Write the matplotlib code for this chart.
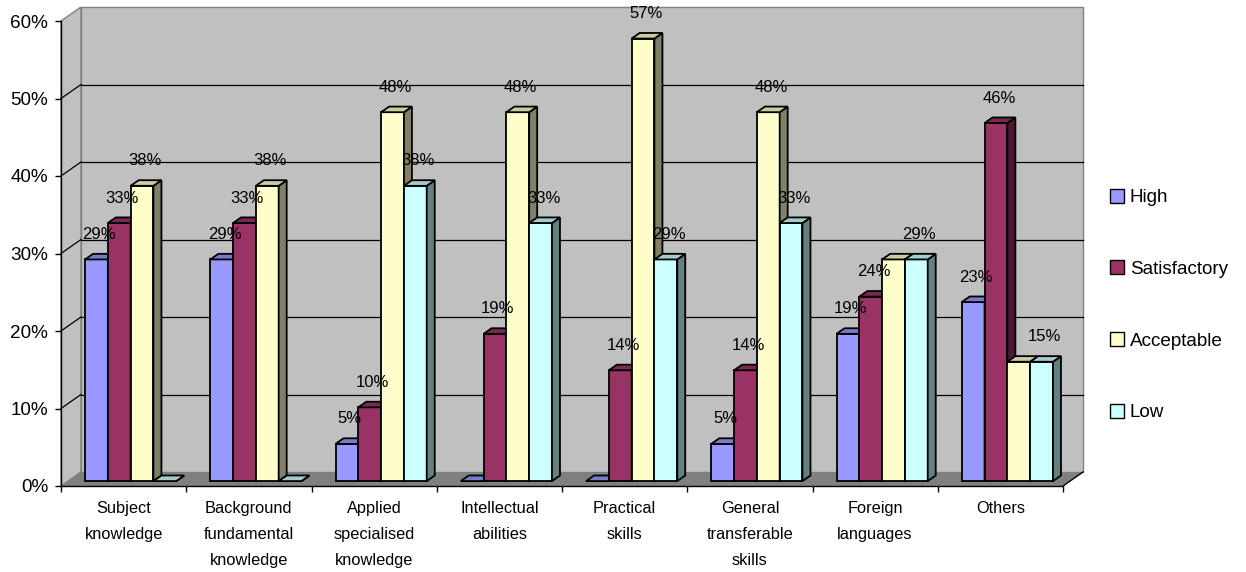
import matplotlib.pyplot as plt
import numpy as np
from matplotlib.colors import to_rgb
from matplotlib.patches import Patch, Polygon, Rectangle
from matplotlib.ticker import PercentFormatter

plt.rcParams['font.family'] = ['Liberation Sans', 'DejaVu Sans']

categories = ['Subject\nknowledge', 'Background\nfundamental\nknowledge',
              'Applied\nspecialised\nknowledge', 'Intellectual\nabilities',
              'Practical\nskills', 'General\ntransferable\nskills',
              'Foreign\nlanguages', 'Others']
series_names = ['High', 'Satisfactory', 'Acceptable', 'Low']
high = [0.286, 0.286, 0.048, 0.0, 0.0, 0.048, 0.190, 0.231]
satisfactory = [0.333, 0.333, 0.0952, 0.190, 0.143, 0.143, 0.238, 0.462]
acceptable = [0.381, 0.381, 0.476, 0.476, 0.571, 0.476, 0.286, 0.154]
low = [0.0, 0.0, 0.381, 0.333, 0.286, 0.333, 0.286, 0.154]
series_values = [high, satisfactory, acceptable, low]
colors = ['#9999FF', '#993366', '#FFFFCC', '#CCFFFF']


def shade(c, f):
    r, g, b = to_rgb(c)
    return (r * f, g * f, b * f)


fig = plt.figure(figsize=(12.46, 5.72), dpi=100)
ax = fig.add_axes([61 / 1246, 86 / 572, 1002 / 1246, 465 / 572])
n = len(categories)
ymax = 0.6
ax.set_xlim(0, n)
ax.set_ylim(0, ymax)
ax.patch.set_visible(False)

# pixel sizes in data units
px_x = n / 1002
px_y = ymax / 465
DX, DY = 20 * px_x, 14 * px_y          # depth of the chart box
BW = 22.8 * px_x                       # bar width
front, back = 0.35, 0.75               # bar depth inside the box

wall = '#C0C0C0'
edge = '#808080'
# walls and floor
ax.add_patch(Polygon([(DX, DY), (n + DX, DY), (n + DX, ymax + DY), (DX, ymax + DY)],
                     closed=True, facecolor=wall, edgecolor=edge, lw=1, clip_on=False, zorder=0))
ax.add_patch(Polygon([(0, 0), (DX, DY), (DX, ymax + DY), (0, ymax)],
                     closed=True, facecolor=wall, edgecolor=edge, lw=1, clip_on=False, zorder=0))
ax.add_patch(Polygon([(0, 0), (n, 0), (n + DX, DY), (DX, DY)],
                     closed=True, facecolor='#808080', edgecolor='none', clip_on=False, zorder=0.5))
ax.plot([n, n + DX], [0, DY], color='black', lw=1, clip_on=False, zorder=0.6)

# gridlines on the back wall and the side wall
for t in np.arange(0.1, ymax, 0.1):
    ax.plot([DX, n + DX], [t + DY, t + DY], color='black', lw=0.9, zorder=0.4, clip_on=False)
    ax.plot([0, DX], [t, t + DY], color='black', lw=0.9, zorder=0.4, clip_on=False)

# 3D bars
z = 1
bdx, bdy = (back - front) * DX, (back - front) * DY
for i in range(n):
    for j, (vals, c) in enumerate(zip(series_values, colors)):
        v = vals[i]
        x0 = i + 0.5 + (j - 2) * BW + front * DX
        y0 = front * DY
        ax.add_patch(Rectangle((x0, y0), BW, v, facecolor=c, edgecolor='black', lw=1.3, zorder=z))
        ax.add_patch(Polygon([(x0 + BW, y0), (x0 + BW + bdx, y0 + bdy),
                              (x0 + BW + bdx, y0 + v + bdy), (x0 + BW, y0 + v)],
                             closed=True, facecolor=shade(c, 0.5), edgecolor='black', lw=1.3, zorder=z))
        ax.add_patch(Polygon([(x0, y0 + v), (x0 + BW, y0 + v),
                              (x0 + BW + bdx, y0 + v + bdy), (x0 + bdx, y0 + v + bdy)],
                             closed=True, facecolor=shade(c, 0.8), edgecolor='black', lw=1.3, zorder=z))
        z += 1

# value labels (a label repeated by the next bar is covered by it)
for i in range(n):
    for j, vals in enumerate(series_values):
        v = vals[i]
        if v == 0:
            continue
        if j + 1 < len(series_values) and series_values[j + 1][i] == v:
            continue
        x0 = i + 0.5 + (j - 2) * BW + front * DX
        ax.text(x0 + BW / 2 + 3 * px_x, front * DY + v + 25 * px_y, f'{v:.0%}',
                ha='center', va='center', fontsize=12, color='black', zorder=100)

# axes
for s in ['top', 'right']:
    ax.spines[s].set_visible(False)
for s in ['left', 'bottom']:
    ax.spines[s].set_color('black')
    ax.spines[s].set_linewidth(1)
    ax.spines[s].set_zorder(0.7)

ax.set_yticks(np.arange(0, ymax + 0.001, 0.1))
ax.yaxis.set_major_formatter(PercentFormatter(1.0, decimals=0))
ax.tick_params(axis='y', length=4.3, width=1, pad=5, labelsize=13.6, direction='out')

ax.set_xticks(np.arange(0, n + 1))
ax.set_xticklabels([])
ax.set_xticks(np.arange(n) + 0.5, minor=True)
ax.set_xticklabels(categories, minor=True, fontsize=11.8)
ax.tick_params(axis='x', which='major', length=4.3, width=1, direction='out')
ax.tick_params(axis='x', which='minor', length=0, pad=11)
for lbl in ax.get_xticklabels(minor=True):
    lbl.set_linespacing(1.9)
    lbl.set_verticalalignment('top')

handles = [Patch(facecolor=c, edgecolor='black', lw=1) for c in colors]
fig.legend(handles, series_names, loc='center left', bbox_to_anchor=(1110 / 1246, 1 - 305 / 572),
           frameon=False, fontsize=13.6, handlelength=0.75, handleheight=0.75,
           handletextpad=0.3, labelspacing=2.87, borderpad=0, borderaxespad=0)

fig.savefig('out.png', dpi=100, facecolor='white')
